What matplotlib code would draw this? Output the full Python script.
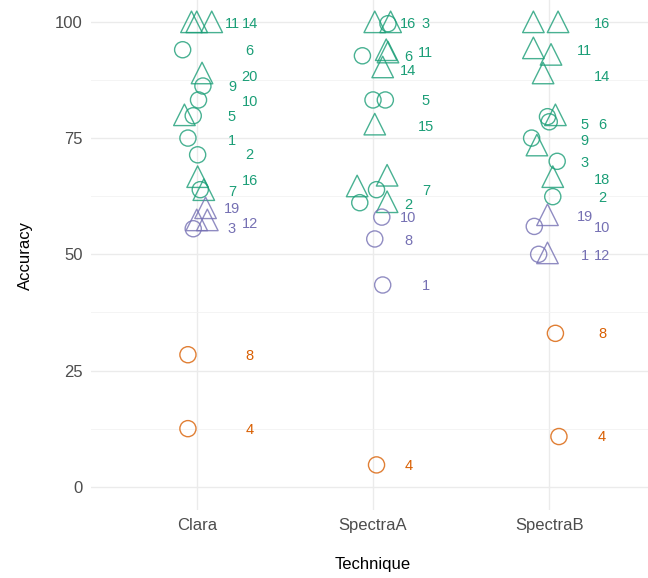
import matplotlib
matplotlib.use("Agg")
import matplotlib.pyplot as plt

plt.rcParams['font.family'] = ['Liberation Sans', 'DejaVu Sans']

techniques = ["Clara", "SpectraA", "SpectraB"]
group_colors = {"high": "#1b9e77", "mid": "#7570b3", "low": "#d95f02"}

# points: technique, accuracy, horizontal jitter, shape, group
pt_tech = ["Clara"] * 20 + ["SpectraA"] * 19 + ["SpectraB"] * 19
pt_acc = [100, 100, 100, 94, 89, 86.2, 83.2, 80, 79.8, 75, 71.4, 66.7, 63.9, 63.9, 60, 57.4, 57.4, 55.5, 28.4, 12.5,
          100, 100, 99.6, 92.7, 94, 93.5, 90.3, 83.2, 83.2, 78, 67, 64.7, 63.9, 61.1, 61.3, 58, 53.3, 43.4, 4.7,
          100, 100, 94.4, 93, 89, 80, 79.6, 78.5, 75, 73.5, 70, 66.7, 62.4, 58.5, 56, 50, 50.3, 33, 10.8]
pt_jit = [-0.03, 0.0, 0.085, -0.08, 0.03, 0.035, 0.01, -0.07, -0.02, -0.05, 0.005, 0.005, 0.04, 0.02, 0.05, 0.06, 0.0, -0.02, -0.05, -0.05,
          0.01, 0.1, 0.085, -0.06, 0.075, 0.085, 0.055, 0.0, 0.07, 0.01, 0.08, -0.09, 0.02, -0.075, 0.08, 0.05, 0.01, 0.055, 0.02,
          -0.09, 0.05, -0.09, 0.01, -0.035, 0.035, -0.01, 0.0, -0.1, -0.07, 0.045, 0.02, 0.02, -0.01, -0.085, -0.06, -0.01, 0.035, 0.055]
pt_shape = ["^", "^", "^", "o", "^", "o", "o", "^", "o", "o", "o", "^", "^", "o", "^", "^", "^", "o", "o", "o",
            "^", "^", "o", "o", "^", "^", "^", "o", "o", "^", "^", "^", "o", "o", "^", "o", "o", "o", "o",
            "^", "^", "^", "^", "^", "^", "o", "o", "o", "^", "o", "^", "o", "^", "o", "o", "^", "o", "o"]
pt_group = (["high"] * 14 + ["mid"] * 4 + ["low"] * 2
            + ["high"] * 15 + ["mid"] * 3 + ["low"] * 1
            + ["high"] * 13 + ["mid"] * 4 + ["low"] * 2)

# subject labels: technique, accuracy, text, group, column (0 near, 1 far)
lb_tech = ["Clara"] * 16 + ["SpectraA"] * 13 + ["SpectraB"] * 15
lb_acc = [99.6, 99.6, 93.8, 88.2, 86, 82.8, 79.6, 74.4, 71.4, 65.8, 63.4, 59.8, 56.6, 55.5, 28.2, 12.3,
          99.6, 99.6, 92.5, 93.3, 89.5, 83, 77.4, 63.7, 60.6, 57.8, 52.9, 43.2, 4.5,
          99.6, 93.8, 88.2, 77.8, 77.8, 74.4, 69.7, 66, 62.2, 58.1, 55.7, 49.7, 49.7, 32.9, 10.8]
lb_text = ["11", "14", "6", "20", "9", "10", "5", "1", "2", "16", "7", "19", "12", "3", "8", "4",
           "16", "3", "6", "11", "14", "5", "15", "7", "2", "10", "8", "1", "4",
           "16", "11", "14", "5", "6", "9", "3", "18", "2", "19", "10", "1", "12", "8", "4"]
lb_group = (["high"] * 11 + ["mid"] * 3 + ["low"] * 2
            + ["high"] * 9 + ["mid"] * 3 + ["low"] * 1
            + ["high"] * 9 + ["mid"] * 4 + ["low"] * 2)
lb_col = [0, 1, 1, 1, 0, 1, 0, 0, 1, 1, 0, 0, 1, 0, 1, 1,
          0, 1, 0, 1, 0, 1, 1, 1, 0, 0, 0, 1, 0,
          1, 0, 1, 0, 1, 0, 0, 1, 1, 0, 1, 0, 1, 1, 1]

fig = plt.figure(figsize=(6.48, 5.78), dpi=100)
ax = fig.add_axes([91 / 648, 68 / 578, 564 / 648, 510 / 578])

xpos = {t: i + 1 for i, t in enumerate(techniques)}
for t, a, j, s, g in zip(pt_tech, pt_acc, pt_jit, pt_shape, pt_group):
    size = 135 if s == "o" else 240
    ax.scatter(xpos[t] + j, a, marker=s, s=size, facecolors="none",
               edgecolors=group_colors[g], linewidths=1.0, alpha=0.8, zorder=3)

nudge = [0.2, 0.3]
for t, a, txt, g, c in zip(lb_tech, lb_acc, lb_text, lb_group, lb_col):
    ax.text(xpos[t] + nudge[c], a, txt, color=group_colors[g], fontsize=10.5,
            ha="center", va="center", zorder=4)

ax.set_xlim(0.4, 3.6)
ax.set_ylim(-5, 104.7)
ax.set_xticks([1, 2, 3])
ax.set_xticklabels(techniques)
ax.set_yticks([0, 25, 50, 75, 100])
ax.set_yticks([12.5, 37.5, 62.5, 87.5], minor=True)
ax.grid(which="major", color="#ebebeb", linewidth=1.0)
ax.grid(which="minor", axis="y", color="#f2f2f2", linewidth=0.6)
ax.set_axisbelow(True)
for sp in ax.spines.values():
    sp.set_visible(False)
ax.tick_params(which="both", length=0, labelsize=12, labelcolor="#4d4d4d", pad=6)
ax.set_xlabel("Technique", fontsize=12, labelpad=17)
ax.set_ylabel("Accuracy", fontsize=12, labelpad=16)

fig.savefig("out.png", dpi=100)
